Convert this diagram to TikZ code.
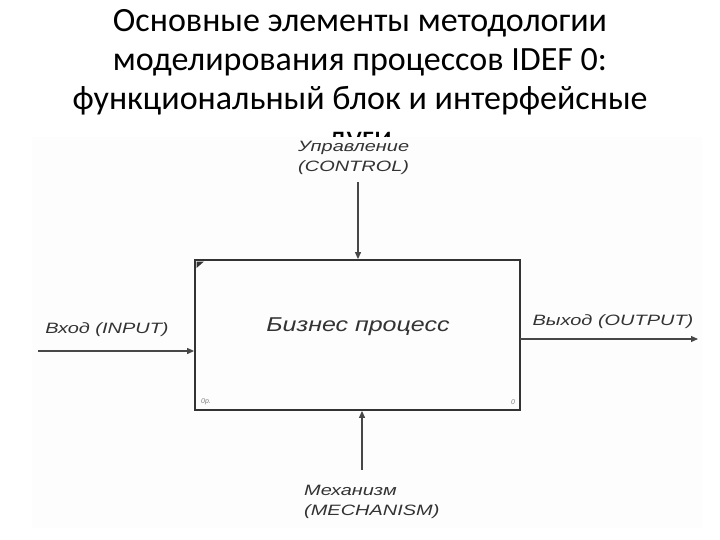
\documentclass[tikz,border=0pt]{standalone}
\usepackage{fontspec}
\setmainfont{Carlito}
\newfontfamily\diafont{Liberation Sans}
\usetikzlibrary{arrows.meta}
\definecolor{ink}{HTML}{333333}
\definecolor{bgimg}{HTML}{FCFDFC}
\tikzset{
  ttl/.style={font=\fontsize{34}{39}\selectfont, inner sep=0pt, anchor=base},
  lbl/.style={font=\diafont\itshape\fontsize{15}{19}\selectfont, text=ink, inner sep=0pt},
  arr/.style={draw=ink!90, line width=1.1pt, -{Triangle[length=7pt,width=6pt]}},
  blk/.style={draw=ink, line width=1.8pt, minimum width=325pt, minimum height=150pt, inner sep=0pt},
  tiny/.style={font=\diafont\itshape\fontsize{7}{8}\selectfont, text=gray, inner sep=0pt}
}
\newcommand{\stretchtxt}[1]{\scalebox{1.33}[1]{#1}}
\begin{document}
\begin{tikzpicture}[x=1pt,y=-1pt]
\useasboundingbox (0,0) rectangle (720,540);
\node[ttl] (t1) at (360,32) {Основные элементы методологии};
\node[ttl] (t2) at (360,71) {моделирования процессов IDEF 0:};
\node[ttl] (t3) at (360,110) {функциональный блок и интерфейсные};
\node[ttl] (t4) at (360,149) {дуги};
\fill[bgimg] (32,137) rectangle (702,528);
\node[blk] (box) at (357.5,335) {};
\node[font=\diafont\itshape\fontsize{20}{24}\selectfont, text=ink] (bp) at (358,327) {\scalebox{1.25}[1]{Бизнес процесс}};
% control
\node[lbl, align=left, anchor=north west] (ctl) at (298,141) {\stretchtxt{Управление}\\[1pt]\stretchtxt{(CONTROL)}};
\coordinate (ctls) at (358,182);
\draw[arr] (ctls) -- (ctls |- box.north);
% input
\node[lbl] (inl) at (107,330) {\stretchtxt{Вход (INPUT)}};
\coordinate (ins) at (38,351);
\draw[arr] (ins) -- (ins -| box.west);
% output
\node[lbl] (outl) at (613,322) {\stretchtxt{Выход (OUTPUT)}};
\coordinate (outs) at (520,339);
\coordinate (oute) at (698,339);
\draw[arr] (outs) -- (oute);
% mechanism
\node[lbl, align=left, anchor=north west] (mech) at (304,485) {\stretchtxt{Механизм}\\[1pt]\stretchtxt{(MECHANISM)}};
\coordinate (mecs) at (362,470);
\draw[arr] (mecs) -- (mecs |- box.south);
% corner marks
\fill[ink] (196.5,261.5) -- (204,261.5) -- (196.5,268) -- cycle;
\node[tiny] (c0p) at (206,402) {0p.};
\node[tiny] (c0) at (513,402) {0};
\end{tikzpicture}
\end{document}
